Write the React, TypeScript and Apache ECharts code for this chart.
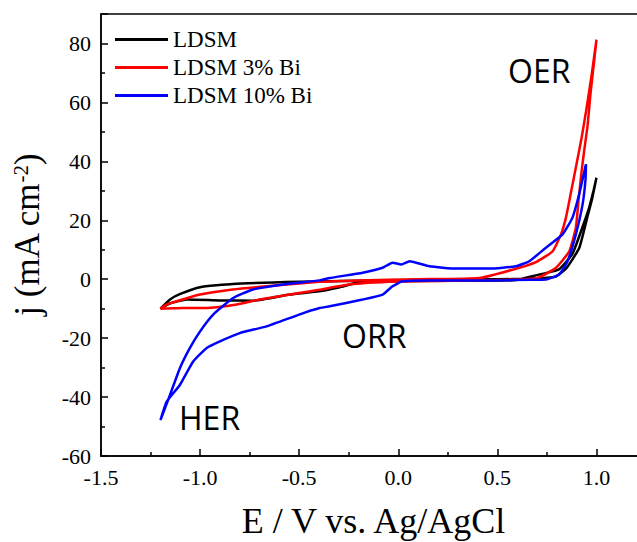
import React, { useEffect, useRef } from "react";
import * as echarts from "echarts";

// LDSM (black) closed CV loop: potential E (V) and current density j (mA cm^-2)
const ldsmE = [-1.2, -1.15, -1.1, -1.0, -0.835, -0.5, -0.2, 0.2, 0.5, 0.66, 0.75, 0.797, 0.848, 0.913, 0.953, 0.979, 1.0,
  0.985, 0.962, 0.928, 0.878, 0.812, 0.762, 0.695, 0.594, 0.4, 0.1, -0.18, -0.3, -0.4, -0.548, -0.734, -0.9, -1.068, -1.15, -1.2];
const ldsmJ = [-10, -6.8, -5.0, -2.7, -1.6, -0.9, -0.5, -0.2, 0, 0.1, 0.5, 1.0, 3.7, 10.6, 20.8, 27.6, 34.4,
  30, 24, 17.4, 8.5, 3.4, 2.4, 1.3, -0.3, -0.5, -0.6, -0.9, -2.8, -4.1, -5.2, -7.3, -7.2, -6.9, -8.2, -10];

// LDSM 3% Bi (red)
const bi3E = [-1.2, -1.169, -1.0, -0.835, -0.665, -0.397, -0.2, 0.1, 0.409, 0.611, 0.7, 0.779, 0.821, 0.846, 0.87, 0.896, 0.925, 0.948, 0.975, 1.0,
  0.99, 0.97, 0.955, 0.938, 0.924, 0.91, 0.896, 0.863, 0.796, 0.696, 0.5, 0.2, -0.01, -0.25, -0.4, -0.5, -0.7, -0.816, -0.917, -1.0, -1.085, -1.2];
const bi3J = [-10, -8.6, -5.2, -3.5, -2.4, -0.9, -0.4, 0, 0.4, 3.9, 6.0, 9.5, 15.2, 20.9, 29, 37.9, 48, 57.2, 69, 81.3,
  75, 63, 52, 43.6, 36, 27, 17.5, 9.5, 3.9, 0.3, -0.3, -0.6, -0.8, -1.8, -3.6, -4.7, -6.9, -8.6, -9.5, -9.8, -9.8, -10];

// LDSM 10% Bi (blue)
const bi10E = [-1.2, -1.152, -1.102, -1.052, -1.0, -0.934, -0.833, -0.733, -0.582, -0.397, -0.346, -0.18, -0.079, -0.029, 0.015, 0.057, 0.157, 0.292, 0.46, 0.594, 0.661, 0.745, 0.829, 0.879, 0.913, 0.947,
  0.945, 0.93, 0.896, 0.854, 0.812, 0.745, 0.661, 0.495, 0.157, 0.021, -0.029, -0.079, -0.18, -0.346, -0.397, -0.5, -0.665, -0.8, -0.9, -0.968, -1.035, -1.102, -1.169, -1.2];
const bi10J = [-47.8, -39.3, -30.2, -23.4, -17.7, -12, -6.4, -3.5, -1.8, -0.4, 0.4, 2.2, 3.9, 5.6, 5.0, 6.1, 4.4, 3.6, 3.6, 4.4, 6.1, 10.7, 15.2, 20.9, 28.9, 39,
  34, 25.4, 15.2, 6.1, 1.6, -0.1, -0.2, -0.4, -0.4, -0.7, -2.4, -5.2, -6.9, -9.2, -9.8, -12, -16, -18.3, -21.1, -23.4, -27.9, -35.9, -41.6, -47.8];

const seriesNames = ["LDSM", "LDSM 3% Bi", "LDSM 10% Bi"];
const seriesColors = ["#000000", "#ff0000", "#0000ff"];
const annotations = [
  { text: "OER", x: 508, y: 70 },
  { text: "ORR", x: 342, y: 335 },
  { text: "HER", x: 179, y: 417 },
];

const zip = (a: number[], b: number[]) => a.map((v, i) => [v, b[i]]);

export default function App() {
  const ref = useRef<HTMLDivElement>(null);
  useEffect(() => {
    if (!ref.current) return;
    const chart = echarts.init(ref.current, undefined, { renderer: "svg" });
    const serif = "'Liberation Serif'";
    const datasets = [zip(ldsmE, ldsmJ), zip(bi3E, bi3J), zip(bi10E, bi10J)];
    chart.setOption({
      animation: false,
      backgroundColor: "#ffffff",
      grid: {
        left: 101, top: 14, bottom: 86, right: 0,
        containLabel: false, outerBoundsMode: "none",
        show: true, borderColor: "#000", borderWidth: 1.5,
      },
      legend: {
        orient: "vertical",
        left: 115,
        top: 28,
        padding: 0,
        icon: "rect",
        itemWidth: 53,
        itemHeight: 3,
        itemGap: 5,
        data: seriesNames,
        textStyle: { fontFamily: serif, fontSize: 23, color: "#000" },
      },
      xAxis: {
        type: "value",
        min: -1.5,
        max: 1.25,
        interval: 0.5,
        name: "E / V vs. Ag/AgCl",
        nameLocation: "middle",
        nameGap: 47,
        nameTextStyle: { fontFamily: serif, fontSize: 36, color: "#000" },
        axisLine: { onZero: false, lineStyle: { color: "#000", width: 1.5 } },
        axisTick: { inside: true, length: 7, lineStyle: { color: "#000", width: 1.5 } },
        minorTick: { show: true, splitNumber: 2, length: 4, lineStyle: { color: "#000", width: 1.5 } },
        splitLine: { show: false },
        axisLabel: {
          showMaxLabel: false,
          margin: 10,
          fontFamily: serif,
          fontSize: 22,
          color: "#000",
          formatter: (v: number) => v.toFixed(1),
        },
      },
      yAxis: {
        type: "value",
        min: -60,
        max: 90,
        interval: 20,
        name: "{a|j (mA cm}{s|-2}{a|)}",
        nameLocation: "middle",
        nameGap: 56,
        nameTextStyle: {
          color: "#000",
          rich: {
            a: { fontFamily: serif, fontSize: 35, color: "#000" },
            s: { fontFamily: serif, fontSize: 21, color: "#000", verticalAlign: "top" },
          },
        },
        axisLine: { onZero: false, lineStyle: { color: "#000", width: 1.5 } },
        axisTick: { inside: true, length: 7, lineStyle: { color: "#000", width: 1.5 } },
        minorTick: { show: true, splitNumber: 2, length: 4, lineStyle: { color: "#000", width: 1.5 } },
        splitLine: { show: false },
        axisLabel: { showMaxLabel: false, margin: 10, fontFamily: serif, fontSize: 22, color: "#000" },
      },
      graphic: annotations.map((a) => ({
        type: "text",
        x: a.x,
        y: a.y,
        z: 100,
        style: {
          text: a.text,
          fontFamily: "'Open Sans', sans-serif",
          fontSize: 32,
          fill: "#000",
          verticalAlign: "middle",
        },
      })),
      series: datasets.map((d, i) => ({
        name: seriesNames[i],
        type: "line",
        data: d,
        showSymbol: false,
        symbol: "none",
        smooth: 0.15,
        lineStyle: { color: seriesColors[i], width: 2.5 },
        itemStyle: { color: seriesColors[i] },
      })),
    });
    return () => chart.dispose();
  }, []);
  return (
    <div style={{ position: "absolute", left: 0, top: 0, width: 637, height: 542, overflow: "hidden" }}>
      <div ref={ref} style={{ width: 646, height: 542 }} />
    </div>
  );
}
